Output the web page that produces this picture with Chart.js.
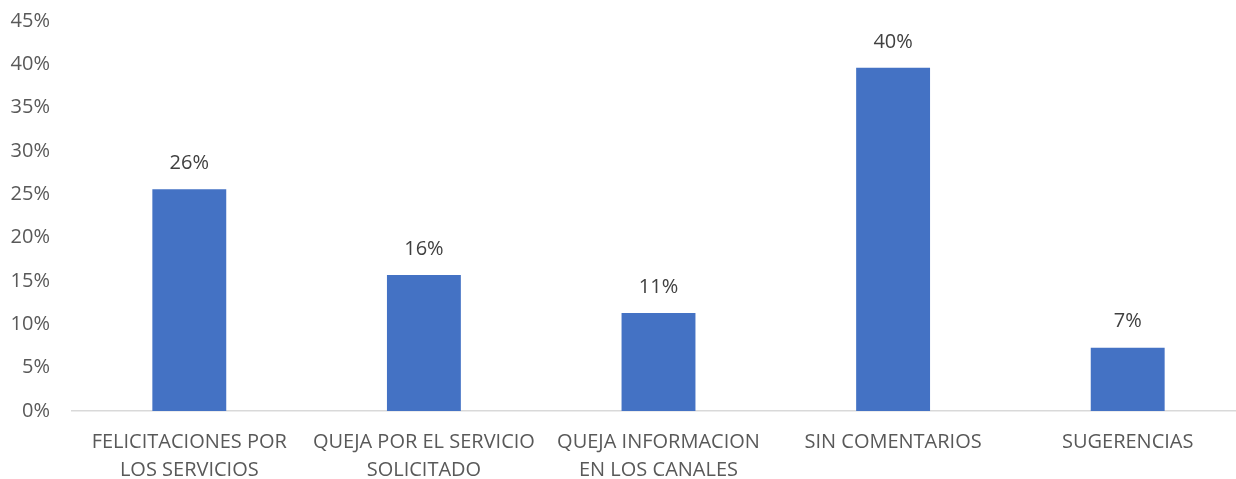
<!DOCTYPE html>
<html>
<head>
<meta charset="utf-8">
<script src="https://cdn.jsdelivr.net/npm/chart.js@4"></script>
<style>
    html, body { margin: 0; padding: 0; background: #fff; overflow: hidden; }
    body { width: 1236px; height: 479px; position: relative; }
    #wrap { position: absolute; left: 0; top: -13px; width: 1245px; height: 514px; }
</style>
</head>
<body>
<div id="wrap"><canvas id="BarChart"></canvas></div>
<script>
const categories = [
    ['FELICITACIONES POR', 'LOS SERVICIOS'],
    ['QUEJA POR EL SERVICIO', 'SOLICITADO'],
    ['QUEJA INFORMACION', 'EN LOS CANALES'],
    'SIN COMENTARIOS',
    'SUGERENCIAS'
];

const percent_values = [25.6, 15.7, 11.3, 39.6, 7.3];
const value_labels = ['26%', '16%', '11%', '40%', '7%'];

// draws the value text above each bar
const barLabels = {
    id: 'barLabels',
    afterDatasetsDraw(chart) {
        const ctx = chart.ctx;
        const meta = chart.getDatasetMeta(0);
        ctx.save();
        ctx.font = '20px "Open Sans", sans-serif';
        ctx.fillStyle = '#404040';
        ctx.textAlign = 'center';
        ctx.textBaseline = 'middle';
        meta.data.forEach((bar, i) => {
            ctx.fillText(value_labels[i], bar.x, bar.y - 26);
        });
        ctx.restore();
    }
};

const bar_data = {
    labels: categories,
    datasets: [{
        data: percent_values,
        backgroundColor: '#4472C4',
        borderWidth: 0,
        barPercentage: 0.315,
        categoryPercentage: 1
    }]
};

const configBar = {
    type: 'bar',
    data: bar_data,
    plugins: [barLabels],
    options: {
        responsive: true,
        maintainAspectRatio: false,
        animation: false,
        layout: {
            padding: { top: 0, right: 0, left: 0, bottom: 0 }
        },
        plugins: {
            legend: { display: false },
            tooltip: { enabled: false }
        },
        scales: {
            x: {
                grid: { display: false, drawTicks: false },
                border: { display: true, color: '#D9D9D9', width: 1.5 },
                ticks: {
                    color: '#595959',
                    font: { family: '"Open Sans", sans-serif', size: 20, lineHeight: 1.4 },
                    maxRotation: 0,
                    autoSkip: false,
                    padding: 17
                }
            },
            y: {
                min: 0,
                max: 45,
                grid: { display: false, drawTicks: false },
                border: { display: false },
                afterFit: scale => { scale.width = 72; },
                ticks: {
                    stepSize: 5,
                    color: '#595959',
                    font: { family: '"Open Sans", sans-serif', size: 20 },
                    padding: 22,
                    callback: v => v + '%'
                }
            }
        }
    }
};

const BarChart = new Chart(
    document.getElementById('BarChart'),
    configBar
);
</script>
</body>
</html>
